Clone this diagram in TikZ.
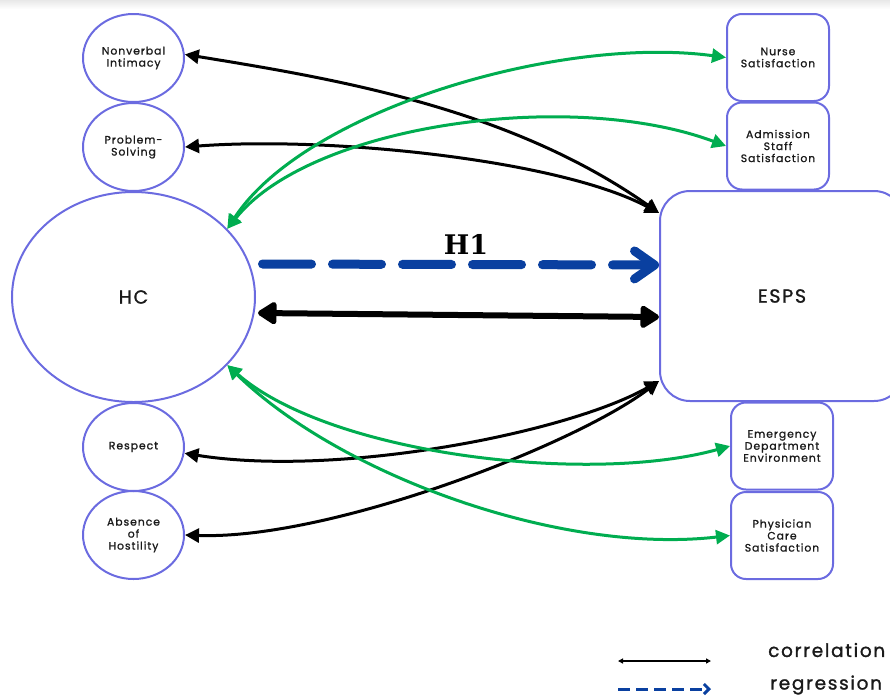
\documentclass[tikz,border=0pt]{standalone}
\usepackage{fontspec}
\setmainfont{Poppins}[LetterSpace=9,FakeBold=1.2]
\newfontfamily\hfont{DejaVu Serif}
\usetikzlibrary{shapes.geometric,arrows.meta}
\definecolor{nodeblue}{HTML}{6B6BE0}
\definecolor{arrgreen}{HTML}{00AD50}
\definecolor{regblue}{HTML}{0A40A0}
\definecolor{txt}{HTML}{1A1A1A}
\begin{document}
\begin{tikzpicture}[x=1pt,y=-1pt,
  circ/.style={ellipse, draw=nodeblue, line width=2pt, minimum width=101pt, minimum height=88pt, inner sep=0pt, align=center, text=txt, font=\fontsize{10.8}{12}\selectfont},
  boxn/.style={rectangle, rounded corners=15pt, draw=nodeblue, line width=2pt, minimum width=102pt, minimum height=87pt, inner sep=0pt, align=center, text=txt, font=\fontsize{10.8}{12}\selectfont},
  corr/.style={line width=3pt, black, {Triangle[length=14pt,width=14pt]}-{Triangle[length=14pt,width=14pt]}},
  grn/.style={line width=3pt, arrgreen, {Triangle[length=14pt,width=14pt]}-{Triangle[length=14pt,width=14pt]}},
]
\useasboundingbox (0,0) rectangle (890,699);
\clip (0,0) rectangle (890,699);
\shade[top color=black!9, bottom color=white] (0,0) rectangle (890,9);

% left nodes
\node[circ] (ni) at (133.5,58) {Nonverbal\\Intimacy};
\node[circ] (ps) at (133.5,147) {Problem-\\Solving};
\node[ellipse, draw=nodeblue, line width=2pt, minimum width=243pt, minimum height=210pt, inner sep=0pt, text=txt, font=\fontsize{19}{22}\selectfont] (hc) at (133.5,297) {HC};
\node[circ] (re) at (133.5,447) {Respect};
\node[circ] (ab) at (133.5,535) {Absence\\of\\Hostility};

% right nodes
\node[boxn] (nu) at (778,57.5) {Nurse\\Satisfaction};
\node[boxn] (ad) at (778,146) {Admission\\Staff\\Satisfaction};
\node[rectangle, rounded corners=30pt, draw=nodeblue, line width=2pt, minimum width=244pt, minimum height=210pt, inner sep=0pt, text=txt, font=\fontsize{19}{22}\selectfont] (es) at (782,296) {ESPS};
\node[boxn] (em) at (782,446) {Emergency\\Department\\Environment};
\node[boxn] (ph) at (782,535.5) {Physician\\Care\\Satisfaction};

% black correlations
\draw[corr] (ni.4) .. controls (336,79) and (510,108) .. ([yshift=83pt]es.west);
\draw[corr] (ps.east) .. controls (330,136) and (560,160) .. ([yshift=83pt]es.west);
\draw[corr] (re.-7) .. controls (340,478) and (570,432) .. ([yshift=-85pt]es.west);
\draw[corr] (ab.east) .. controls (330,540) and (575,445) .. ([yshift=-85pt]es.west);

% green correlations
\draw[grn] (hc.36) .. controls (305,110) and (560,35) .. (nu.west);
\draw[grn] (hc.36) .. controls (310,125) and (570,88) .. (ad.west);
\draw[grn] (hc.-36) .. controls (330,455) and (590,485) .. (em.west);
\draw[grn] (hc.-36) .. controls (340,475) and (560,555) .. (ph.west);

% H1 regression
\draw[regblue, line width=9pt, line cap=round, dash pattern=on 49pt off 21pt,
  -{Straight Barb[length=20pt,width=28pt,round]}] ([shift={(6.5pt,33pt)}]hc.east) -- ([yshift=31pt]es.west);
\node[font=\hfont\bfseries\fontsize{27}{30}\selectfont, text=black, inner sep=0pt] (h1) at (466,244) {H1};

% thick correlation
\draw[line width=6pt, {Triangle[length=21pt,width=25pt,round]}-{Triangle[length=21pt,width=25pt,round]}] ([shift={(2pt,-16pt)}]hc.east) -- ([yshift=-21pt]es.west);

% legend
\coordinate (la) at (618,661);
\coordinate (lb) at (711,661);
\coordinate (lc) at (618,689);
\coordinate (ld) at (711,689);
\draw[line width=1.5pt, {Triangle[length=5pt,width=5pt]}-{Triangle[length=5pt,width=5pt]}] (la) -- (lb);
\draw[regblue, line width=3pt, dash pattern=on 12pt off 6pt, -{Straight Barb[length=5pt,width=10pt]}] (lc) -- (ld);
\node[font=\fontsize{18.5}{20}\selectfont, text=txt, anchor=west, inner sep=0pt] (lt1) at (768,650) {correlation};
\node[font=\fontsize{18.5}{20}\selectfont, text=txt, anchor=west, inner sep=0pt] (lt2) at (770,685) {regression};
\end{tikzpicture}
\end{document}
